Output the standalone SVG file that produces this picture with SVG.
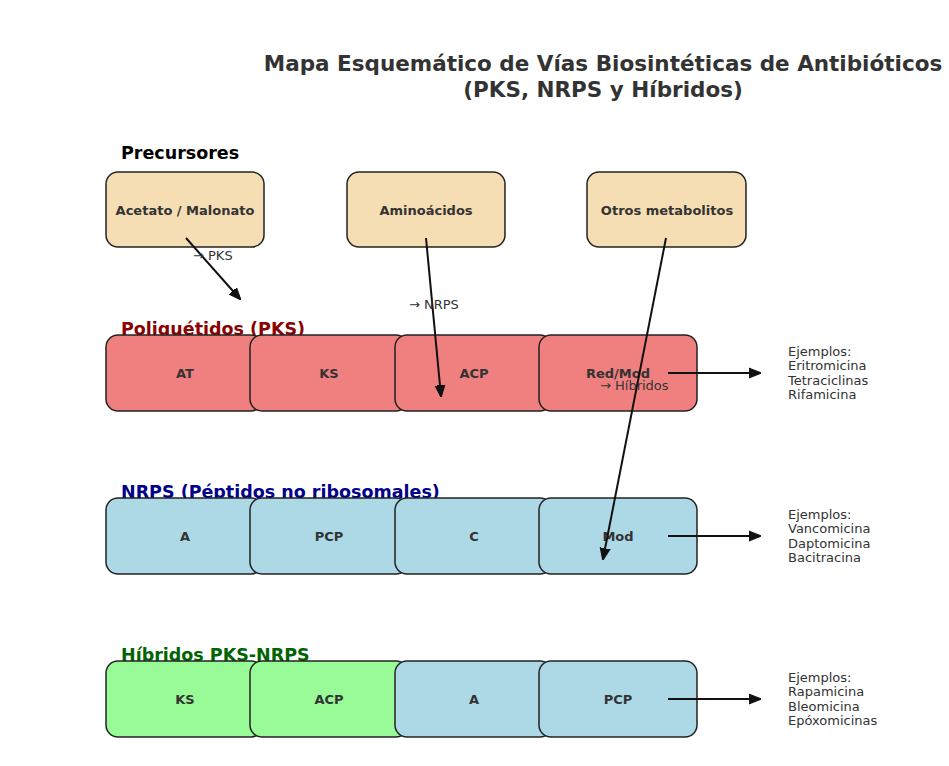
<svg xmlns="http://www.w3.org/2000/svg" width="949" height="766" viewBox="0 0 949 766">
<style>
.t{font-family:"DejaVu Sans",sans-serif;fill:#333}
.title{font-size:21.5px;font-weight:bold;text-anchor:middle}
.bt{font-size:13px;font-weight:bold;text-anchor:middle}
.sm{font-size:13px}
.box{stroke:#222;stroke-width:1.5}
.pre{fill:#f5deb3}.pks{fill:#f08080}.nrps{fill:#add8e6}.hyb{fill:#98fb98}
.con{stroke:#111;stroke-width:2;fill:none;marker-end:url(#ah)}
.sec{font-family:"DejaVu Sans",sans-serif;font-size:17.5px;font-weight:bold}
</style>
<defs><marker id="ah" viewBox="0 0 10 10" refX="9" refY="5" markerWidth="6" markerHeight="6" orient="auto"><path d="M0,1 L10,5 L0,9 Z" fill="#111" stroke="#111" stroke-width="1"/></marker></defs>
<rect width="949" height="766" fill="#fff"/>
<text class="t title" x="603" y="71">Mapa Esquemático de Vías Biosintéticas de Antibióticos</text>
<text class="t title" x="603" y="97">(PKS, NRPS y Híbridos)</text>
<text class="sec" x="121" y="159" fill="#000">Precursores</text>
<g id="pre1"><rect class="box pre" x="106" y="172" width="158" height="75" rx="12"/><text class="t bt" x="185" y="215">Acetato / Malonato</text></g>
<g id="pre2"><rect class="box pre" x="347" y="172" width="158" height="75" rx="12"/><text class="t bt" x="426" y="215">Aminoácidos</text></g>
<g id="pre3"><rect class="box pre" x="587" y="172" width="159" height="75" rx="12"/><text class="t bt" x="667" y="215">Otros metabolitos</text></g>
<text class="sec" x="121" y="335" fill="#8b0000">Poliquétidos (PKS)</text>
<g id="pks1"><rect class="box pks" x="106" y="335" width="157" height="76" rx="12"/><text class="t bt" x="185" y="378">AT</text></g>
<g id="pks2"><rect class="box pks" x="250" y="335" width="158" height="76" rx="12"/><text class="t bt" x="329" y="378">KS</text></g>
<g id="pks3"><rect class="box pks" x="395" y="335" width="157" height="76" rx="12"/><text class="t bt" x="474" y="378">ACP</text></g>
<g id="pks4"><rect class="box pks" x="539" y="335" width="158" height="76" rx="12"/><text class="t bt" x="618" y="378">Red/Mod</text></g>
<text class="sec" x="121" y="498" fill="#00008b">NRPS (Péptidos no ribosomales)</text>
<g id="n1"><rect class="box nrps" x="106" y="498" width="157" height="76" rx="12"/><text class="t bt" x="185" y="541">A</text></g>
<g id="n2"><rect class="box nrps" x="250" y="498" width="158" height="76" rx="12"/><text class="t bt" x="329" y="541">PCP</text></g>
<g id="n3"><rect class="box nrps" x="395" y="498" width="157" height="76" rx="12"/><text class="t bt" x="474" y="541">C</text></g>
<g id="n4"><rect class="box nrps" x="539" y="498" width="158" height="76" rx="12"/><text class="t bt" x="618" y="541">Mod</text></g>
<text class="sec" x="121" y="661" fill="#006400">Híbridos PKS-NRPS</text>
<g id="h1"><rect class="box hyb" x="106" y="661" width="157" height="76" rx="12"/><text class="t bt" x="185" y="704">KS</text></g>
<g id="h2"><rect class="box hyb" x="250" y="661" width="158" height="76" rx="12"/><text class="t bt" x="329" y="704">ACP</text></g>
<g id="h3"><rect class="box nrps" x="395" y="661" width="157" height="76" rx="12"/><text class="t bt" x="474" y="704">A</text></g>
<g id="h4"><rect class="box nrps" x="539" y="661" width="158" height="76" rx="12"/><text class="t bt" x="618" y="704">PCP</text></g>
<g id="connectors">
<line class="con" x1="186" y1="238" x2="240" y2="299"/>
<line class="con" x1="426" y1="238" x2="441" y2="396"/>
<line class="con" x1="666" y1="238" x2="603" y2="559"/>
<line class="con" x1="668" y1="373" x2="760" y2="373"/>
<line class="con" x1="668" y1="536" x2="760" y2="536"/>
<line class="con" x1="668" y1="699" x2="760" y2="699"/>
<text class="t sm" x="193" y="260">→ PKS</text>
<text class="t sm" x="409" y="309">→ NRPS</text>
<text class="t sm" x="600" y="390">→ Híbridos</text>
</g>
<g id="ex1" class="t sm"><text x="788" y="356">Ejemplos:</text><text x="788" y="370">Eritromicina</text><text x="788" y="385">Tetraciclinas</text><text x="788" y="399">Rifamicina</text></g>
<g id="ex2" class="t sm"><text x="788" y="519">Ejemplos:</text><text x="788" y="533">Vancomicina</text><text x="788" y="548">Daptomicina</text><text x="788" y="562">Bacitracina</text></g>
<g id="ex3" class="t sm"><text x="788" y="682">Ejemplos:</text><text x="788" y="696">Rapamicina</text><text x="788" y="711">Bleomicina</text><text x="788" y="725">Epóxomicinas</text></g>
</svg>
